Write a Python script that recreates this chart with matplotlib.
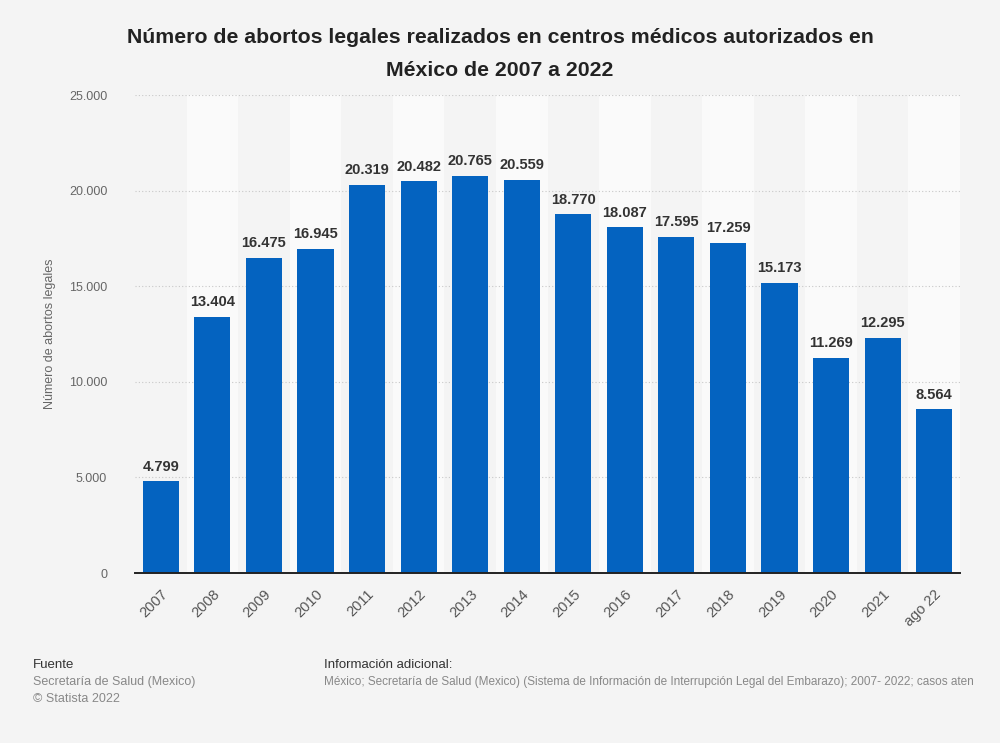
import matplotlib.pyplot as plt
from matplotlib.ticker import FuncFormatter

# data
years = ['2007', '2008', '2009', '2010', '2011', '2012', '2013', '2014',
         '2015', '2016', '2017', '2018', '2019', '2020', '2021', 'ago 22']
abortos = [4799, 13404, 16475, 16945, 20319, 20482, 20765, 20559,
           18770, 18087, 17595, 17259, 15173, 11269, 12295, 8564]

plt.rcParams['font.family'] = ['Liberation Sans', 'DejaVu Sans']

fig = plt.figure(figsize=(10, 7.43), dpi=100)
fig.patch.set_facecolor('#f4f4f4')
ax = fig.add_axes([0.135, 0.2288, 0.825, 0.6432])
ax.set_facecolor('#f4f4f4')

x = list(range(len(years)))
# alternating background bands
for i in x:
    if i % 2 == 1:
        ax.axvspan(i - 0.5, i + 0.5, color='#fafafa', zorder=0, lw=0)

ax.bar(x, abortos, width=0.7, color='#0463c0', zorder=3)

def fmt(v):
    return f'{int(v):,}'.replace(',', '.')

for i, v in zip(x, abortos):
    ax.text(i, v + 400, fmt(v), ha='center', va='bottom', fontsize=10.5,
            fontweight='bold', color='#333333', zorder=4)

ax.set_xlim(-0.5, len(years) - 0.5)
ax.set_ylim(0, 25000)
ax.set_yticks([0, 5000, 10000, 15000, 20000, 25000])
ax.yaxis.set_major_formatter(FuncFormatter(lambda v, p: fmt(v)))
ax.grid(axis='y', color='#c8c8c8', linestyle=(0, (1, 2)), linewidth=0.8, zorder=1)
ax.set_axisbelow(True)

ax.set_xticks(x)
ax.set_xticklabels(years, rotation=45, ha='right', rotation_mode='anchor')
ax.tick_params(axis='x', length=0, labelsize=10.5, labelcolor='#555555', pad=10)
ax.tick_params(axis='y', length=0, labelsize=9, labelcolor='#666666', pad=20)

for s in ['top', 'right', 'left']:
    ax.spines[s].set_visible(False)
ax.spines['bottom'].set_color('#222222')
ax.spines['bottom'].set_linewidth(1.4)
ax.spines['bottom'].set_zorder(5)

ax.set_ylabel('Número de abortos legales', fontsize=9, color='#666666', labelpad=9)

fig.text(0.5, 0.962, 'Número de abortos legales realizados en centros médicos autorizados en\nMéxico de 2007 a 2022',
         ha='center', va='top', fontsize=15.3, fontweight='bold', color='#222222', linespacing=1.9)

fig.text(0.033, 0.105, 'Fuente', fontsize=9.5, color='#333333', va='center')
fig.text(0.033, 0.082, 'Secretaría de Salud (Mexico)', fontsize=9, color='#888888', va='center')
fig.text(0.033, 0.059, '© Statista 2022', fontsize=9, color='#888888', va='center')
fig.text(0.324, 0.105, 'Información adicional:', fontsize=9.5, color='#333333', va='center')
fig.text(0.324, 0.082, 'México; Secretaría de Salud (Mexico) (Sistema de Información de Interrupción Legal del Embarazo); 2007- 2022; casos aten',
         fontsize=8.5, color='#888888', va='center')

fig.savefig('out.png', dpi=100, facecolor=fig.get_facecolor())
